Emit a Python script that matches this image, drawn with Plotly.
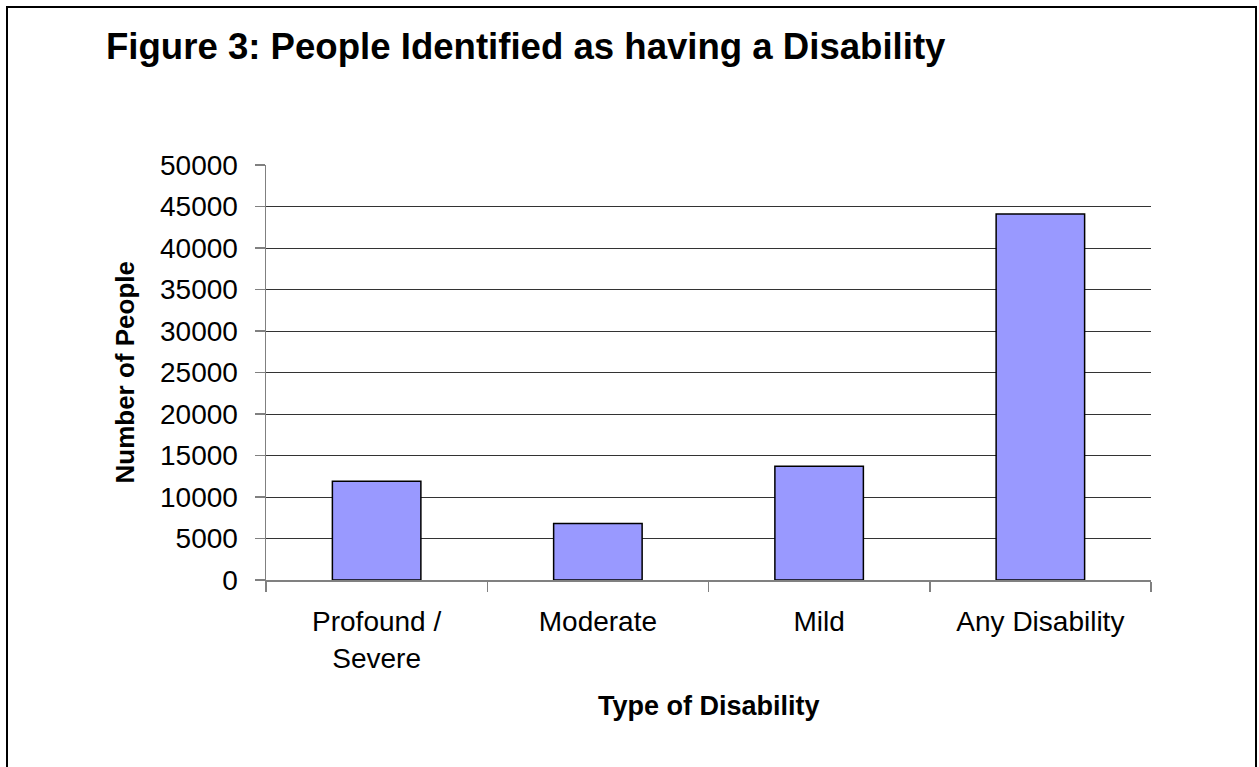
import plotly.graph_objects as go

categories = ["Profound /<br>Severe", "Moderate", "Mild", "Any Disability"]
values = [11900, 6800, 13700, 44100]
y_ticks = [0, 5000, 10000, 15000, 20000, 25000, 30000, 35000, 40000, 45000, 50000]

W, H = 1259, 767
L, R, T, B = 266, 1151, 165, 580  # plot area in pixels
pw, ph = R - L, B - T

def px(x):
    return (x - L) / pw

def py(y):
    return (B - y) / ph

FONT = "Liberation Sans, Arial, sans-serif"

fig = go.Figure(go.Bar(
    x=categories, y=values,
    marker=dict(color="#9999FF", line=dict(color="#000000", width=1.5)),
    width=0.4,
))

fig.update_layout(
    width=W, height=H,
    margin=dict(l=L, r=W - R, t=T, b=H - B),
    paper_bgcolor="white", plot_bgcolor="white",
    showlegend=False,
    font=dict(family=FONT, color="black", size=28),
    title=dict(
        text="<b>Figure 3: People Identified as having a Disability</b>",
        font=dict(family=FONT, size=36.6, color="black"),
        xref="container", yref="container",
        x=106 / W, xanchor="left",
        y=1 - 46 / H, yanchor="middle",
    ),
)

fig.update_xaxes(
    type="category",
    showgrid=False,
    showline=True, linecolor="#808080", linewidth=1.5,
    ticks="outside", tickson="boundaries", ticklen=10, tickcolor="#808080", tickwidth=1.5,
    tickfont=dict(family=FONT, size=28, color="black"),
    ticklabelstandoff=16,
    fixedrange=True,
)
fig.update_yaxes(
    range=[0, 50000],
    tickvals=y_ticks,
    ticktext=[str(v) for v in y_ticks],
    showgrid=True, gridcolor="#333333", gridwidth=1,
    zeroline=False,
    showline=True, linecolor="#808080", linewidth=1.5,
    ticks="outside", ticklen=10, tickcolor="#808080", tickwidth=1.5,
    tickfont=dict(family=FONT, size=28, color="black"),
    ticklabelstandoff=11,
)

fig.add_annotation(
    text="<b>Type of Disability</b>", xref="paper", yref="paper",
    x=0.5, y=py(706), xanchor="center", yanchor="middle", showarrow=False,
    font=dict(family=FONT, size=27, color="black"),
)
fig.add_annotation(
    text="<b>Number of People</b>", xref="paper", yref="paper",
    x=px(124), y=0.5, xanchor="center", yanchor="middle", textangle=-90, showarrow=False,
    font=dict(family=FONT, size=26, color="black"),
)

# outer chart frame
fig.add_shape(
    type="rect", xref="paper", yref="paper",
    x0=px(7), x1=px(1256), y0=py(775), y1=py(7),
    line=dict(color="black", width=2), fillcolor="rgba(0,0,0,0)", layer="below",
)

fig.write_html(
    "out.html",
    config={"displayModeBar": False, "staticPlot": True},
    post_script="document.body.style.margin='0px';document.body.style.overflow='hidden';",
)
